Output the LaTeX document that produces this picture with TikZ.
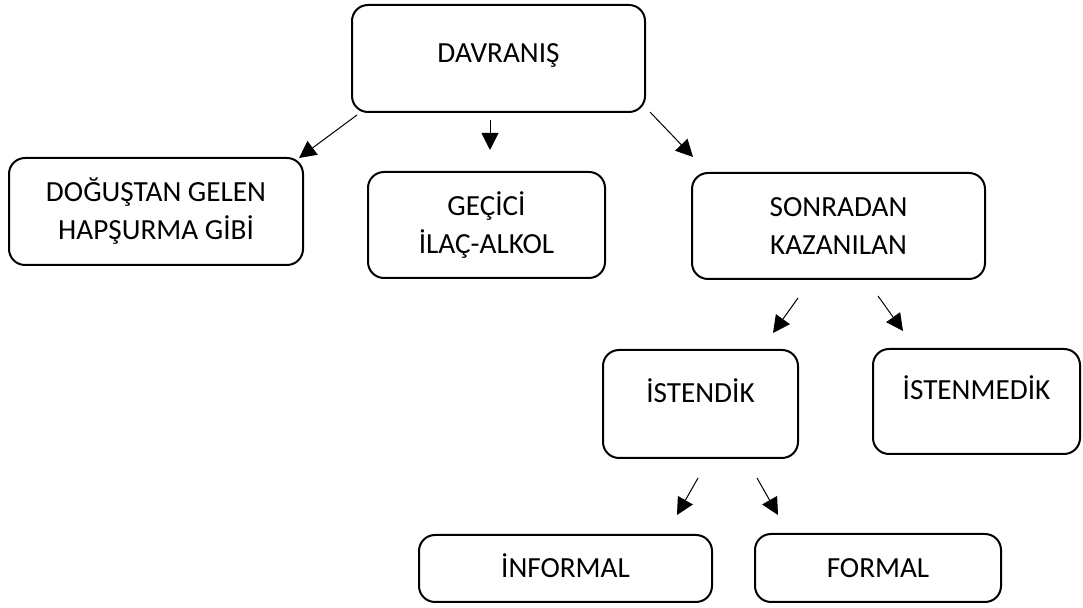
\documentclass[tikz,border=0pt]{standalone}
\usepackage{fontspec}
\setmainfont{Carlito}
\usetikzlibrary{arrows.meta}
\tikzset{
  kutu/.style={draw, line width=1pt, rounded corners=8pt, align=center,
    font=\fontsize{14.6}{19}\selectfont},
  yazi/.style={text height=11pt, text depth=#1},
  ok/.style={line width=0.5pt, -{Triangle[length=8.5pt,width=8.5pt]}}
}

\begin{document}
\begin{tikzpicture}[x=0.5pt,y=-0.5pt]
  \useasboundingbox (0,0) rectangle (1083,608);
  \node[kutu, yazi=7.3pt, minimum width=146.5pt, minimum height=53.5pt] (davranis) at (498.5,58.5) {DAVRANIŞ};
  \node[kutu, minimum width=147pt, minimum height=53.5pt] (dogustan) at (156,211.5) {DOĞUŞTAN GELEN\\HAPŞURMA GİBİ};
  \node[kutu, minimum width=118.5pt, minimum height=53pt] (gecici) at (486.5,225) {GEÇİCİ\\İLAÇ-ALKOL};
  \node[kutu, minimum width=146.5pt, minimum height=53pt] (sonradan) at (838.5,226) {SONRADAN\\KAZANILAN};
  \node[kutu, yazi=12.8pt, minimum width=97.5pt, minimum height=54pt] (istendik) at (700.5,404) {İSTENDİK};
  \node[kutu, yazi=13.3pt, minimum width=103.5pt, minimum height=52.5pt] (istenmedik) at (976.5,401.5) {İSTENMEDİK};
  \node[kutu, yazi=1.8pt, minimum width=146.5pt, minimum height=33.5pt] (informal) at (565.5,568.5) {İNFORMAL};
  \node[kutu, yazi=1.8pt, minimum width=123pt, minimum height=34pt] (formal) at (878,568) {FORMAL};
  \foreach \n/\x/\y in {a1/357/115, b1/299/158, a2/490/120, b2/490/150, a3/650/112, b3/693/157,
    a4/798/298, b4/773/333, a5/878/296, b5/903/331, a6/698/478, b6/677/515, a7/757/478, b7/778/515}
    \coordinate (\n) at (\x,\y);
  \foreach \i in {1,...,7}{
    \draw[ok] (a\i) -- (b\i);
  }
\end{tikzpicture}
\end{document}
